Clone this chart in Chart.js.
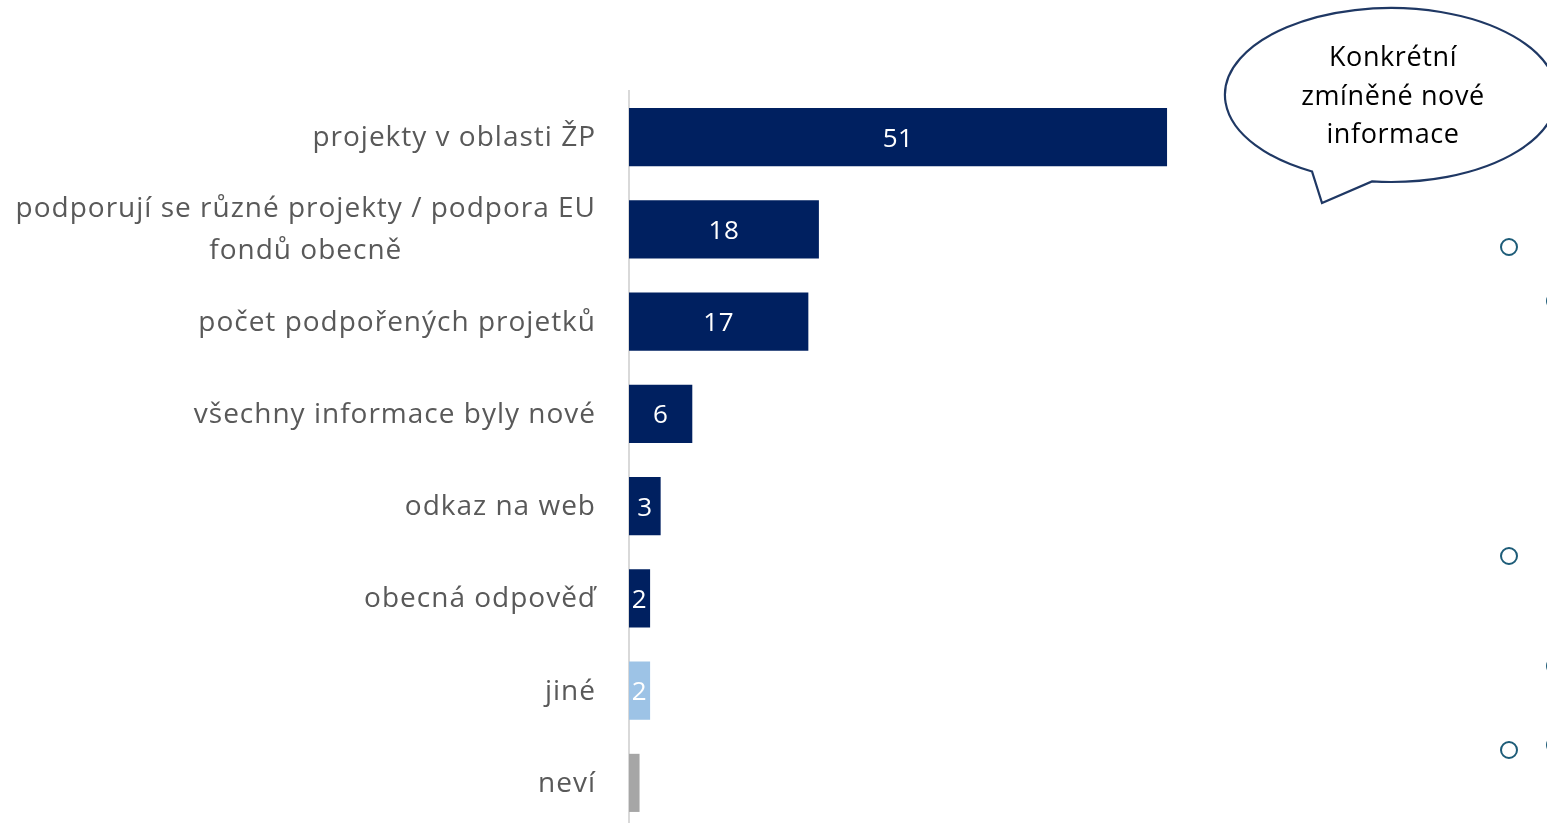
<!DOCTYPE html>
<html>
<head>
<meta charset="utf-8">
<script src="https://cdn.jsdelivr.net/npm/chart.js@4/dist/chart.umd.min.js"></script>
<style>
    html, body { margin: 0; padding: 0; background: #fff; }
    #wrap { position: relative; width: 1547px; height: 823px; overflow: hidden; }
    #chart { position: absolute; left: 0; top: 0; }
    #deco { position: absolute; left: 0; top: 0; }
</style>
</head>
<body>
<div id="wrap">
    <canvas id="chart" width="1547" height="829"></canvas>
    <svg id="deco" width="1547" height="823">
        <!-- bublina s ocáskem -->
        <path d="M1372,181.4 A166,87 0 1,0 1312,171.5 L1322,203 Z" fill="#fff" stroke="#1F3864" stroke-width="2.2" stroke-linejoin="miter"/>
        <g font-family="Open Sans, sans-serif" font-size="27" fill="#000" text-anchor="middle" letter-spacing="0.6">
            <text x="1393" y="66">Konkrétní</text>
            <text x="1393" y="105">zmíněné nové</text>
            <text x="1393" y="143">informace</text>
        </g>
        <g fill="none" stroke="#1D5C78" stroke-width="2">
            <circle cx="1509" cy="247" r="8"/>
            <circle cx="1509" cy="556" r="8"/>
            <circle cx="1509" cy="750" r="8"/>
            <circle cx="1555" cy="301" r="8"/>
            <circle cx="1555" cy="666" r="8"/>
            <circle cx="1555" cy="745" r="8"/>
        </g>
    </svg>
</div>
<script>
// kategorie a hodnoty
const categories = [
    ['projekty v oblasti ŽP'],
    ['podporují se různé projekty / podpora EU', 'fondů obecně'],
    ['počet podpořených projetků'],
    ['všechny informace byly nové'],
    ['odkaz na web'],
    ['obecná odpověď'],
    ['jiné'],
    ['neví']
];
const values = [51, 18, 17, 6, 3, 2, 2, 1];
const showValue = [true, true, true, true, true, true, true, false];
const barColors = ['#002060', '#002060', '#002060', '#002060', '#002060', '#002060', '#9DC3E6', '#A6A6A6'];

// popisky kategorií vlevo (víceřádkové centrované pod sebou)
const categoryLabels = {
    id: 'categoryLabels',
    afterDraw(chart) {
        const ctx = chart.ctx;
        const y = chart.scales.y;
        const right = y.right - 33;
        ctx.save();
        ctx.font = '28px "Open Sans", sans-serif';
        ctx.letterSpacing = '1px';
        ctx.fillStyle = '#595959';
        ctx.textAlign = 'center';
        ctx.textBaseline = 'middle';
        categories.forEach((lines, i) => {
            const cy = y.getPixelForValue(i);
            const maxW = Math.max(...lines.map(l => ctx.measureText(l).width));
            const cx = right - maxW / 2;
            const lh = 42;
            const top = cy - (lines.length - 1) * lh / 2;
            lines.forEach((l, j) => ctx.fillText(l, cx, top + j * lh + 1));
        });
        ctx.restore();
    }
};

// hodnoty uvnitř sloupců
const valueLabels = {
    id: 'valueLabels',
    afterDatasetsDraw(chart) {
        const ctx = chart.ctx;
        const meta = chart.getDatasetMeta(0);
        ctx.save();
        ctx.font = '26px "Open Sans", sans-serif';
        ctx.letterSpacing = '0.5px';
        ctx.fillStyle = '#fff';
        ctx.textAlign = 'center';
        ctx.textBaseline = 'middle';
        meta.data.forEach((bar, i) => {
            if (!showValue[i]) return;
            ctx.fillText(String(values[i]), (bar.base + bar.x) / 2, bar.y + 2);
        });
        ctx.restore();
    }
};

new Chart(document.getElementById('chart').getContext('2d'), {
    type: 'bar',
    data: {
        labels: categories.map(c => c.join(' ')),
        datasets: [{
            data: values,
            backgroundColor: barColors,
            borderWidth: 0,
            categoryPercentage: 1,
            barPercentage: 0.63
        }]
    },
    options: {
        indexAxis: 'y',
        responsive: false,
        animation: false,
        layout: { padding: { top: 91, right: 285, bottom: 0, left: 0 } },
        plugins: {
            legend: { display: false },
            tooltip: { enabled: false }
        },
        scales: {
            x: { display: false, min: 0, max: 60 },
            y: {
                afterFit: function (scale) { scale.width = 629; },
                grid: { display: false },
                border: { display: true, color: '#D9D9D9', width: 2 },
                ticks: { display: false }
            }
        }
    },
    plugins: [categoryLabels, valueLabels]
});
</script>
</body>
</html>
